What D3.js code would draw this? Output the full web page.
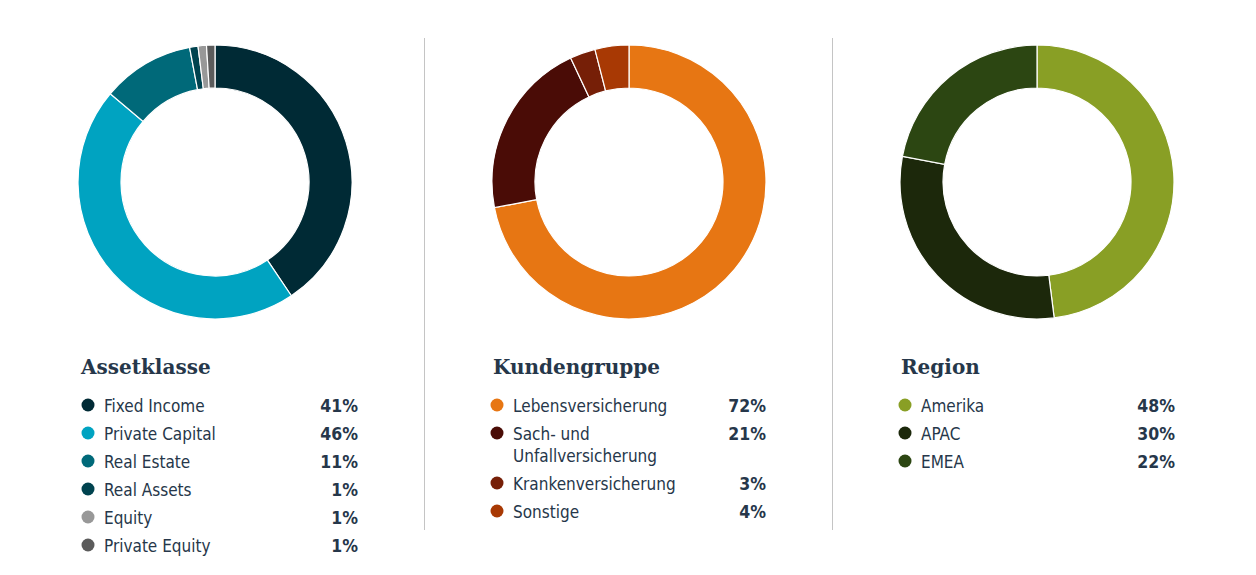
<!DOCTYPE html>
<html>
<head>
<meta charset="utf-8">
<script src="https://cdn.jsdelivr.net/npm/d3@7"></script>
<style>
	body { margin: 0; background: #fff; }
	.title { font-family: "DejaVu Serif", "Liberation Serif", serif; font-weight: bold; font-size: 20px; fill: #26374a; }
	.label { font-family: "Liberation Sans Narrow", "DejaVu Sans Condensed", "Roboto", sans-serif; font-size: 17px; fill: #26374a; }
	.value { font-family: "Liberation Sans Narrow", "DejaVu Sans Condensed", "Roboto", sans-serif; font-size: 17.5px; font-weight: bold; fill: #26374a; }
</style>
</head>
<body>
<div id="chart-area"></div>
<script>

// SVG Size
var width = 1256,
	height = 575;

// Data: Assetklasse
var assetLabels = ["Fixed Income", "Private Capital", "Real Estate", "Real Assets", "Equity", "Private Equity"];
var assetValues = [41, 46, 11, 1, 1, 1];
var assetColors = ["#002a35", "#00a3c1", "#006979", "#00434f", "#989898", "#5b5b5b"];

// Data: Kundengruppe
var kundenLabels = ["Lebensversicherung", "Sach- und Unfallversicherung", "Krankenversicherung", "Sonstige"];
var kundenValues = [72, 21, 3, 4];
var kundenColors = ["#e77613", "#4a0c06", "#761f07", "#a83904"];

// Data: Region
var regionLabels = ["Amerika", "APAC", "EMEA"];
var regionValues = [48, 30, 22];
var regionColors = ["#899f25", "#1c280b", "#2c4612"];

// panel layout (donut centre, title x, legend left and right edge)
var panels = [
	{title: "Assetklasse", labels: assetLabels, values: assetValues, colors: assetColors, cx: 215, tx: 81, left: 81, right: 358},
	{title: "Kundengruppe", labels: kundenLabels, values: kundenValues, colors: kundenColors, cx: 629, tx: 493, left: 490, right: 766},
	{title: "Region", labels: regionLabels, values: regionValues, colors: regionColors, cx: 1037, tx: 901, left: 898, right: 1175}
];

var svg = d3.select("#chart-area").append("svg")
	.attr("width", width)
	.attr("height", height);

// vertical separators
[424.5, 832.5].forEach(function(x) {
	svg.append("line")
		.attr("x1", x).attr("x2", x)
		.attr("y1", 38).attr("y2", 530)
		.attr("stroke", "#c4c4c4")
		.attr("stroke-width", 1);
});

var pie = d3.pie().sort(null).value(d => d);
var arc = d3.arc().innerRadius(94).outerRadius(137);

panels.forEach(function(p) {
	var g = svg.append("g");

	// donut
	var donut = g.append("g")
		.attr("transform", "translate(" + p.cx + ",182)");

	donut.selectAll("path")
		.data(pie(p.values))
		.enter()
		.append("path")
		.attr("d", arc)
		.attr("fill", (d, i) => p.colors[i])
		.attr("stroke", "#fff")
		.attr("stroke-width", 1.2);

	// legend
	g.append("text")
		.attr("class", "title")
		.attr("x", p.tx)
		.attr("y", 374)
		.text(p.title);

	var y = 405;
	p.labels.forEach(function(lab, i) {
		g.append("circle")
			.attr("cx", p.left + 7)
			.attr("cy", y)
			.attr("r", 6.5)
			.attr("fill", p.colors[i]);

		var t = g.append("text")
			.attr("class", "label")
			.attr("x", p.left + 23)
			.attr("y", y + 6.5);

		// wrap long labels
		var words = lab.split(" "), line = [], lines = 0;
		var tspan = t.append("tspan").attr("x", p.left + 23);
		words.forEach(function(w) {
			line.push(w);
			tspan.text(line.join(" "));
			if (tspan.node().getComputedTextLength() > 170 && line.length > 1) {
				line.pop();
				tspan.text(line.join(" "));
				line = [w];
				lines++;
				tspan = t.append("tspan").attr("x", p.left + 23).attr("dy", 22).text(w);
			}
		});

		g.append("text")
			.attr("class", "value")
			.attr("x", p.right)
			.attr("y", y + 6.5)
			.attr("text-anchor", "end")
			.text(p.values[i] + "%");

		y += 28 + lines * 22;
	});
});

</script>
</body>
</html>
